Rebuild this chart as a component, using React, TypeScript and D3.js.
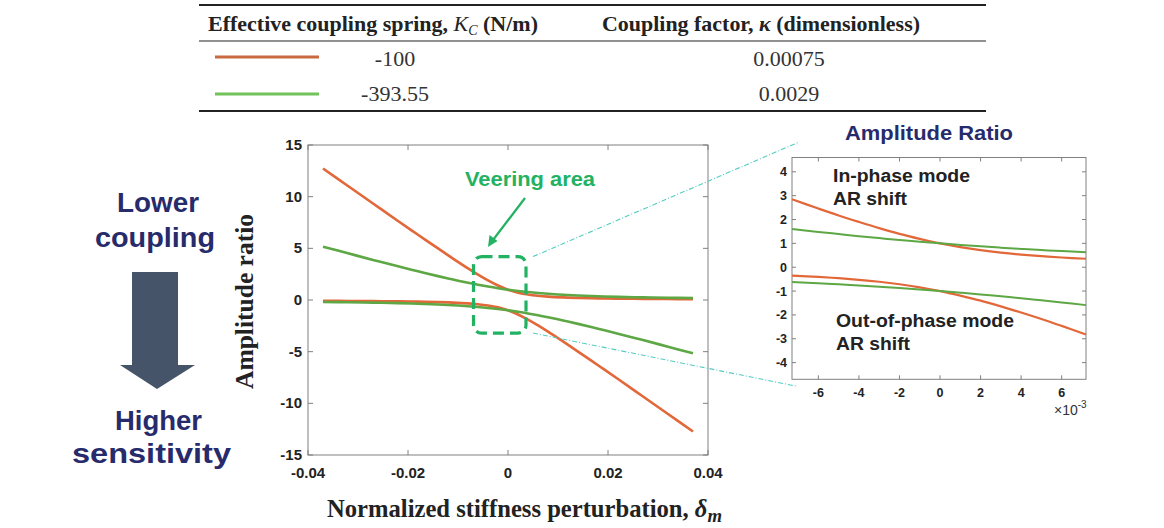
import React from "react";
import * as d3 from "d3";

// ---------- data ----------
const tableHeaders = ["Effective coupling spring, ", "Coupling factor, "];
const springValues = ["-100", "-393.55"];
const couplingValues = ["0.00075", "0.0029"];

// main chart: normalized stiffness perturbation
const mainX = [-0.037, -0.032, -0.027, -0.022, -0.018, -0.014, -0.011, -0.008, -0.006, -0.004, -0.002, 0, 0.002, 0.004, 0.006, 0.008, 0.011, 0.014, 0.018, 0.022, 0.027, 0.032, 0.037];
const orangeUpper = [12.73, 11.03, 9.34, 7.65, 6.31, 4.99, 4.01, 3.06, 2.46, 1.9, 1.4, 1.0, 0.715, 0.528, 0.406, 0.326, 0.25, 0.201, 0.158, 0.13, 0.107, 0.091, 0.079];
const orangeLower = [-0.079, -0.091, -0.107, -0.13, -0.158, -0.201, -0.25, -0.326, -0.406, -0.528, -0.715, -1.0, -1.4, -1.9, -2.46, -3.06, -4.01, -4.99, -6.31, -7.65, -9.34, -11.03, -12.73];
const greenUpper = [5.16, 4.52, 3.88, 3.26, 2.78, 2.31, 1.98, 1.67, 1.48, 1.3, 1.14, 1.0, 0.875, 0.767, 0.675, 0.598, 0.505, 0.432, 0.36, 0.306, 0.258, 0.221, 0.194];
const greenLower = [-0.194, -0.221, -0.258, -0.306, -0.36, -0.432, -0.505, -0.598, -0.675, -0.767, -0.875, -1.0, -1.14, -1.3, -1.48, -1.67, -1.98, -2.31, -2.78, -3.26, -3.88, -4.52, -5.16];
const mainXTicks = [-0.04, -0.02, 0, 0.02, 0.04];
const mainXTickLabels = ["-0.04", "-0.02", "0", "0.02", "0.04"];
const mainYTicks = [15, 10, 5, 0, -5, -10, -15];

// inset chart (x in units of 1e-3)
const insetX = [-7.3, -6, -5, -4, -3, -2, -1, 0, 1, 2, 3, 4, 5, 6, 7.2];
const orangeUpperIn = [2.85, 2.46, 2.17, 1.9, 1.64, 1.4, 1.19, 1.0, 0.844, 0.715, 0.611, 0.528, 0.461, 0.406, 0.355];
const orangeLowerIn = [-0.351, -0.406, -0.461, -0.528, -0.611, -0.715, -0.844, -1.0, -1.19, -1.4, -1.64, -1.9, -2.17, -2.46, -2.82];
const greenUpperIn = [1.6, 1.48, 1.39, 1.3, 1.22, 1.14, 1.07, 1.0, 0.935, 0.875, 0.819, 0.767, 0.719, 0.675, 0.628];
const greenLowerIn = [-0.624, -0.675, -0.719, -0.767, -0.819, -0.875, -0.935, -1.0, -1.07, -1.14, -1.22, -1.3, -1.39, -1.48, -1.59];
const insetXTicks = [-6, -4, -2, 0, 2, 4, 6];
const insetYTicks = [4, 3, 2, 1, 0, -1, -2, -3, -4];

// veering box (data coords of main chart)
const veeringBoxX = [-0.0069, 0.0036];
const veeringBoxY = [4.2, -3.2];

// ---------- styles ----------
const ORANGE = "#E2683A";
const GREEN = "#5DA745";
const AXIS = "#808080";
const NAVY = "#272B6B";
const VEER = "#22B262";
const SANS = "'Liberation Sans', Arial, sans-serif";
const SERIF = "'Liberation Serif', 'Times New Roman', serif";
const SG = "spacingAndGlyphs";

export default function App() {
  const xM = d3.scaleLinear().domain([-0.04, 0.04]).range([308, 708]);
  const yM = d3.scaleLinear().domain([-15, 15]).range([455, 145]);
  const xI = d3.scaleLinear().domain([-7.3, 7.2]).range([792, 1086]);
  const yI = d3.scaleLinear().domain([-4.7, 4.6]).range([379.3, 157.5]);

  const lineMain = (ys: number[]) =>
    d3
      .line<number>()
      .x((_, i) => xM(mainX[i]))
      .y((d) => yM(d))
      .curve(d3.curveCatmullRom.alpha(0.5))(ys) || "";
  const lineIn = (ys: number[]) =>
    d3
      .line<number>()
      .x((_, i) => xI(insetX[i]))
      .y((d) => yI(d))
      .curve(d3.curveCatmullRom.alpha(0.5))(ys) || "";

  const [mx0, mx1] = xM.range();
  const [my0, my1] = yM.range();
  const [ix0, ix1] = xI.range();
  const [iy0, iy1] = yI.range();

  const bx0 = xM(veeringBoxX[0]);
  const bx1 = xM(veeringBoxX[1]);
  const by0 = yM(veeringBoxY[0]);
  const by1 = yM(veeringBoxY[1]);

  const arrowCx = 155;

  return (
    <svg width={1164} height={528} style={{ position: "absolute", left: 0, top: 0, background: "#fff" }}>
      <rect x={0} y={0} width={1164} height={528} fill="#fff" />

      {/* ---------- table ---------- */}
      <line x1={199} x2={986} y1={5} y2={5} stroke="#222" strokeWidth={1.8} />
      <line x1={199} x2={986} y1={41} y2={41} stroke="#222" strokeWidth={1.2} />
      <line x1={199} x2={986} y1={111} y2={111} stroke="#222" strokeWidth={1.8} />
      <g fontFamily={SERIF} fontSize={22} fill="#222" fontWeight="bold">
        <text x={208} y={31} textLength={330} lengthAdjust={SG}>
          {tableHeaders[0]}
          <tspan fontStyle="italic" fontWeight="normal">K</tspan>
          <tspan fontStyle="italic" fontWeight="normal" fontSize={14} dy={4}>C</tspan>
          <tspan dy={-4}> (N/m)</tspan>
        </text>
        <text x={602} y={31} textLength={318} lengthAdjust={SG}>
          {tableHeaders[1]}
          <tspan fontStyle="italic">κ</tspan>
          <tspan> (dimensionless)</tspan>
        </text>
      </g>
      <line x1={215} x2={319} y1={57} y2={57} stroke="#C9693F" strokeWidth={3} />
      <line x1={215} x2={319} y1={94} y2={94} stroke="#72C25A" strokeWidth={3} />
      {springValues.map((v, i) => (
        <text key={v} x={395} y={[66, 101][i]} textAnchor="middle" fontFamily={SERIF} fontSize={22} fill="#333">
          {v}
        </text>
      ))}
      {couplingValues.map((v, i) => (
        <text key={v} x={789} y={[66, 101][i]} textAnchor="middle" fontFamily={SERIF} fontSize={22} fill="#333">
          {v}
        </text>
      ))}

      {/* ---------- left annotation ---------- */}
      <g fontFamily={SANS} fontWeight="bold" fill={NAVY} fontSize={28}>
        <text x={117} y={212} textLength={82} lengthAdjust={SG}>Lower</text>
        <text x={95} y={247} textLength={120} lengthAdjust={SG}>coupling</text>
        <text x={115} y={430} textLength={87} lengthAdjust={SG}>Higher</text>
        <text x={72} y={463} textLength={159} lengthAdjust={SG}>sensitivity</text>
      </g>
      <path
        d={`M${arrowCx - 23},272 L${arrowCx + 23},272 L${arrowCx + 23},365 L${arrowCx + 40},365 L${arrowCx + 2},389 L${arrowCx - 35},365 L${arrowCx - 23},365 Z`}
        fill="#46546A"
      />

      {/* ---------- main chart ---------- */}
      <rect x={mx0} y={my1} width={mx1 - mx0} height={my0 - my1} fill="#fff" stroke={AXIS} strokeWidth={1} />
      {mainXTicks.map((t) => (
        <g key={"mxt" + t}>
          <line x1={xM(t)} x2={xM(t)} y1={my0} y2={my0 - 5} stroke={AXIS} />
          <line x1={xM(t)} x2={xM(t)} y1={my1} y2={my1 + 5} stroke={AXIS} />
        </g>
      ))}
      {mainYTicks.map((t) => (
        <g key={"myt" + t}>
          <line x1={mx0} x2={mx0 + 5} y1={yM(t)} y2={yM(t)} stroke={AXIS} />
          <line x1={mx1} x2={mx1 - 5} y1={yM(t)} y2={yM(t)} stroke={AXIS} />
        </g>
      ))}
      <g fontFamily={SANS} fontWeight="bold" fontSize={15} fill="#222">
        {mainXTicks.map((t, i) => (
          <text key={"mxl" + t} x={xM(t)} y={478} textAnchor="middle">
            {mainXTickLabels[i]}
          </text>
        ))}
        {mainYTicks.map((t) => (
          <text key={"myl" + t} x={mx0 - 6} y={yM(t) + 5} textAnchor="end">
            {t}
          </text>
        ))}
      </g>
      <path d={lineMain(orangeUpper)} fill="none" stroke={ORANGE} strokeWidth={2.6} />
      <path d={lineMain(orangeLower)} fill="none" stroke={ORANGE} strokeWidth={2.6} />
      <path d={lineMain(greenUpper)} fill="none" stroke={GREEN} strokeWidth={2.6} />
      <path d={lineMain(greenLower)} fill="none" stroke={GREEN} strokeWidth={2.6} />

      {/* axis titles */}
      <text
        transform={`translate(253,302) rotate(-90)`}
        x={-87}
        y={0}
        fontFamily={SERIF}
        fontWeight="bold"
        fontSize={25}
        fill="#222"
        textLength={175}
        lengthAdjust={SG}
      >
        Amplitude ratio
      </text>
      <text x={327} y={517} fontFamily={SERIF} fontWeight="bold" fontSize={25} fill="#222" textLength={395} lengthAdjust={SG}>
        Normalized stiffness perturbation,{" "}
        <tspan fontStyle="italic">δ</tspan>
        <tspan fontStyle="italic" fontSize={19} dy={5}>m</tspan>
      </text>

      {/* veering annotation */}
      <rect
        x={bx0}
        y={by0}
        width={bx1 - bx0}
        height={by1 - by0}
        rx={8}
        ry={8}
        fill="none"
        stroke={VEER}
        strokeWidth={3.2}
        strokeDasharray="11,6"
      />
      <text x={465} y={186} fontFamily={SANS} fontWeight="bold" fontSize={21} fill={VEER} textLength={130} lengthAdjust={SG}>
        Veering area
      </text>
      <line x1={525} y1={198} x2={493} y2={240} stroke={VEER} strokeWidth={2.2} />
      <path d="M488,247 L489.5,235 L497.5,241 Z" fill={VEER} />

      {/* connector lines */}
      <line x1={bx1 + 7} y1={by0} x2={ix0 + 6} y2={iy1 - 15} stroke="#55CCC2" strokeWidth={1.1} strokeDasharray="5,2,1,2" />
      <line x1={bx1 + 7} y1={by1} x2={ix0 + 5} y2={iy0 + 7} stroke="#55CCC2" strokeWidth={1.1} strokeDasharray="5,2,1,2" />

      {/* ---------- inset chart ---------- */}
      <text x={845} y={140} fontFamily={SANS} fontWeight="bold" fontSize={20} fill={NAVY} textLength={168} lengthAdjust={SG}>
        Amplitude Ratio
      </text>
      <rect x={ix0} y={iy1} width={ix1 - ix0} height={iy0 - iy1} fill="#fff" stroke={AXIS} strokeWidth={1} />
      {insetXTicks.map((t) => (
        <g key={"ixt" + t}>
          <line x1={xI(t)} x2={xI(t)} y1={iy0} y2={iy0 - 4} stroke={AXIS} />
          <line x1={xI(t)} x2={xI(t)} y1={iy1} y2={iy1 + 4} stroke={AXIS} />
        </g>
      ))}
      {insetYTicks.map((t) => (
        <g key={"iyt" + t}>
          <line x1={ix0} x2={ix0 + 4} y1={yI(t)} y2={yI(t)} stroke={AXIS} />
          <line x1={ix1} x2={ix1 - 4} y1={yI(t)} y2={yI(t)} stroke={AXIS} />
        </g>
      ))}
      <g fontFamily={SANS} fontWeight="bold" fontSize={12.5} fill="#222">
        {insetXTicks.map((t) => (
          <text key={"ixl" + t} x={xI(t)} y={397} textAnchor="middle">
            {t}
          </text>
        ))}
        {insetYTicks.map((t) => (
          <text key={"iyl" + t} x={ix0 - 5} y={yI(t) + 4.5} textAnchor="end">
            {t}
          </text>
        ))}
      </g>
      <text x={1054} y={415} fontFamily={SANS} fontSize={14} fill="#333">
        ×10<tspan fontSize={10} dy={-7}>-3</tspan>
      </text>
      <path d={lineIn(orangeUpperIn)} fill="none" stroke={ORANGE} strokeWidth={2.2} />
      <path d={lineIn(orangeLowerIn)} fill="none" stroke={ORANGE} strokeWidth={2.2} />
      <path d={lineIn(greenUpperIn)} fill="none" stroke={GREEN} strokeWidth={2} />
      <path d={lineIn(greenLowerIn)} fill="none" stroke={GREEN} strokeWidth={2} />
      <g fontFamily={SANS} fontWeight="bold" fontSize={18} fill="#222">
        <text x={833} y={182} textLength={137} lengthAdjust={SG}>In-phase mode</text>
        <text x={833} y={205} textLength={74} lengthAdjust={SG}>AR shift</text>
        <text x={836} y={327} textLength={178} lengthAdjust={SG}>Out-of-phase mode</text>
        <text x={836} y={350} textLength={74} lengthAdjust={SG}>AR shift</text>
      </g>
    </svg>
  );
}
